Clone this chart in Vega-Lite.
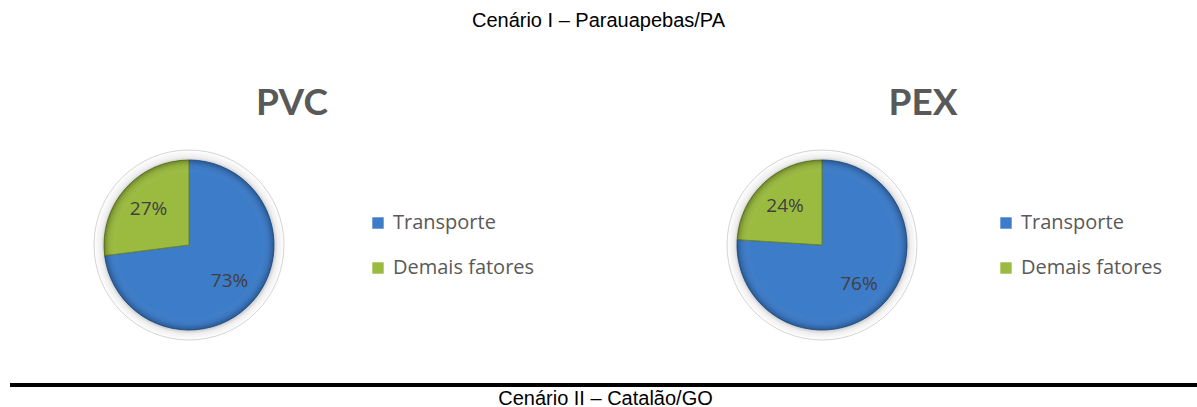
{
  "$schema": "https://vega.github.io/schema/vega-lite/v6.json",
  "padding": {"left": 10, "top": 11, "right": 0, "bottom": 0},
  "background": "white",
  "title": {
    "text": "Cenário I – Parauapebas/PA",
    "font": "Liberation Sans",
    "fontSize": 20,
    "fontWeight": "normal",
    "color": "#000000",
    "anchor": "middle",
    "dx": -5,
    "offset": 54
  },
  "datasets": {
    "pvc": [
      {"componente": "Transporte", "valor": 0.73},
      {"componente": "Demais fatores", "valor": 0.27}
    ],
    "pex": [
      {"componente": "Transporte", "valor": 0.76},
      {"componente": "Demais fatores", "valor": 0.24}
    ]
  },
  "config": {
    "view": {"stroke": null},
    "legend": {
      "title": null,
      "orient": "none",
      "symbolType": "square",
      "symbolSize": 130,
      "symbolStrokeWidth": 0,
      "labelFont": "Open Sans",
      "labelFontSize": 20,
      "labelColor": "#595959",
      "rowPadding": 25,
      "labelOffset": 5,
      "padding": 0
    }
  },
  "spacing": 38,
  "vconcat": [
    {
      "spacing": 108,
      "resolve": {"scale": {"color": "independent", "stroke": "independent"}, "legend": {"color": "independent"}},
      "hconcat": [
        {
          "width": 358,
          "height": 200,
          "data": {"name": "pvc"},
          "title": {"text": "PVC", "font": "Lato", "fontSize": 37, "fontWeight": "bold", "color": "#595959", "anchor": "middle", "frame": "group", "dx": 103, "offset": 22},
          "resolve": {"scale": {"theta": "independent"}},
          "layer": [
            {
              "transform": [{"aggregate": [{"op": "count", "as": "n"}]}],
              "mark": {"type": "arc", "radius": 95, "stroke": "#d4d4d4", "strokeWidth": 1,
                "fill": {"gradient": "radial", "x1": 0.52, "y1": 0.53, "r1": 0, "x2": 0.5, "y2": 0.5, "r2": 0.5,
                  "stops": [{"offset": 0.84, "color": "#9a9a9a"}, {"offset": 0.93, "color": "#eeeeee"}, {"offset": 1, "color": "#ffffff"}]}},
              "encoding": {"theta": {"field": "n", "type": "quantitative"}}
            },
            {
              "mark": {"type": "arc", "radius": 85, "strokeWidth": 1},
              "encoding": {
                "theta": {"field": "valor", "type": "quantitative", "stack": true},
                "order": {"field": "componente", "sort": "descending"},
                "color": {"field": "componente", "type": "nominal",
                  "scale": {"domain": ["Transporte", "Demais fatores"], "range": ["#3d7cc9", "#9bbb40"]},
                  "legend": {"legendX": 358, "legendY": 68}},
                "stroke": {"field": "componente", "type": "nominal",
                  "scale": {"domain": ["Transporte", "Demais fatores"], "range": ["#2c5f9e", "#6b8527"]},
                  "legend": null}
              }
            },
            {
              "transform": [{"aggregate": [{"op": "count", "as": "n"}]}],
              "mark": {"type": "arc", "radius": 85,
                "fill": {"gradient": "radial", "x1": 0.5, "y1": 0.5, "r1": 0, "x2": 0.5, "y2": 0.5, "r2": 0.5,
                  "stops": [{"offset": 0.0, "color": "rgba(255,255,255,0)"}, {"offset": 0.85, "color": "rgba(255,255,255,0)"}, {"offset": 0.95, "color": "rgba(0,0,0,0.08)"}, {"offset": 1, "color": "rgba(0,0,0,0.28)"}]}},
              "encoding": {"theta": {"field": "n", "type": "quantitative"}}
            },
            {
              "mark": {"type": "text", "radius": 54, "font": "Open Sans", "fontSize": 19, "color": "#404040"},
              "encoding": {
                "theta": {"field": "valor", "type": "quantitative", "stack": true},
                "order": {"field": "componente", "sort": "descending"},
                "text": {"field": "valor", "type": "quantitative", "format": ".0%"}
              }
            }
          ]
        },
        {
          "width": 358,
          "height": 200,
          "data": {"name": "pex"},
          "title": {"text": "PEX", "font": "Lato", "fontSize": 37, "fontWeight": "bold", "color": "#595959", "anchor": "middle", "frame": "group", "dx": 101, "offset": 22},
          "resolve": {"scale": {"theta": "independent"}},
          "layer": [
            {
              "transform": [{"aggregate": [{"op": "count", "as": "n"}]}],
              "mark": {"type": "arc", "radius": 95, "stroke": "#d4d4d4", "strokeWidth": 1,
                "fill": {"gradient": "radial", "x1": 0.52, "y1": 0.53, "r1": 0, "x2": 0.5, "y2": 0.5, "r2": 0.5,
                  "stops": [{"offset": 0.84, "color": "#9a9a9a"}, {"offset": 0.93, "color": "#eeeeee"}, {"offset": 1, "color": "#ffffff"}]}},
              "encoding": {"theta": {"field": "n", "type": "quantitative"}}
            },
            {
              "mark": {"type": "arc", "radius": 85, "strokeWidth": 1},
              "encoding": {
                "theta": {"field": "valor", "type": "quantitative", "stack": true},
                "order": {"field": "componente", "sort": "descending"},
                "color": {"field": "componente", "type": "nominal",
                  "scale": {"domain": ["Transporte", "Demais fatores"], "range": ["#3d7cc9", "#9bbb40"]},
                  "legend": {"legendX": 353, "legendY": 68}},
                "stroke": {"field": "componente", "type": "nominal",
                  "scale": {"domain": ["Transporte", "Demais fatores"], "range": ["#2c5f9e", "#6b8527"]},
                  "legend": null}
              }
            },
            {
              "transform": [{"aggregate": [{"op": "count", "as": "n"}]}],
              "mark": {"type": "arc", "radius": 85,
                "fill": {"gradient": "radial", "x1": 0.5, "y1": 0.5, "r1": 0, "x2": 0.5, "y2": 0.5, "r2": 0.5,
                  "stops": [{"offset": 0.0, "color": "rgba(255,255,255,0)"}, {"offset": 0.85, "color": "rgba(255,255,255,0)"}, {"offset": 0.95, "color": "rgba(0,0,0,0.08)"}, {"offset": 1, "color": "rgba(0,0,0,0.28)"}]}},
              "encoding": {"theta": {"field": "n", "type": "quantitative"}}
            },
            {
              "mark": {"type": "text", "radius": 54, "font": "Open Sans", "fontSize": 19, "color": "#404040"},
              "encoding": {
                "theta": {"field": "valor", "type": "quantitative", "stack": true},
                "order": {"field": "componente", "sort": "descending"},
                "text": {"field": "valor", "type": "quantitative", "format": ".0%"}
              }
            }
          ]
        }
      ]
    },
    {
      "width": 1187,
      "height": 4,
      "data": {"values": [{"elemento": "separador"}]},
      "mark": {"type": "rect", "color": "#000000"},
      "encoding": {},
      "title": {"text": "Cenário II – Catalão/GO", "orient": "bottom", "font": "Liberation Sans", "fontSize": 20, "fontWeight": "normal", "color": "#000000", "anchor": "middle", "frame": "group", "dx": 2, "offset": 2}
    }
  ]
}
